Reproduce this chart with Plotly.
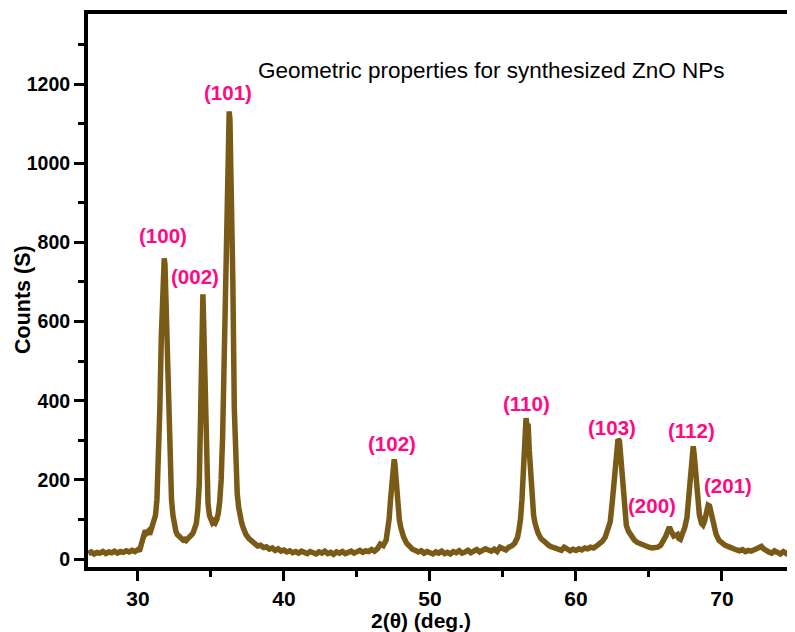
import plotly.graph_objects as go

two_theta = [
    26.6, 26.8, 27.0, 27.2, 27.4, 27.6, 27.8, 28.0, 28.2, 28.4, 28.6, 28.8, 29.0, 29.2, 29.4, 29.6, 29.8, 30.0,
    30.1, 30.2, 30.3, 30.4, 30.5, 30.6, 30.7, 30.8, 30.9, 31.0, 31.1, 31.2, 31.3, 31.4, 31.5, 31.6, 31.7, 31.8,
    31.85, 31.9, 32.0, 32.1, 32.2, 32.3, 32.4, 32.5, 32.6, 32.7, 32.8, 32.9, 33.0, 33.1, 33.2, 33.3, 33.4, 33.5,
    33.6, 33.7, 33.8, 33.9, 34.0, 34.1, 34.2, 34.3, 34.4, 34.45, 34.5, 34.6, 34.7, 34.8, 34.9, 35.0, 35.1, 35.2,
    35.3, 35.4, 35.5, 35.6, 35.7, 35.8, 35.9, 36.0, 36.1, 36.2, 36.25, 36.3, 36.4, 36.5, 36.6, 36.7, 36.8, 36.9,
    37.0, 37.1, 37.2, 37.3, 37.4, 37.6, 37.8, 38.0, 38.2, 38.4, 38.6, 38.8, 39.0, 39.2, 39.4, 39.6, 39.8, 40.0,
    40.2, 40.4, 40.6, 40.8, 41.0, 41.2, 41.4, 41.6, 41.8, 42.0, 42.2, 42.4, 42.6, 42.8, 43.0, 43.2, 43.4, 43.6,
    43.8, 44.0, 44.2, 44.4, 44.6, 44.8, 45.0, 45.2, 45.4, 45.6, 45.8, 46.0, 46.2, 46.4, 46.6, 46.8, 47.0, 47.1,
    47.2, 47.3, 47.4, 47.5, 47.55, 47.6, 47.7, 47.8, 47.9, 48.0, 48.1, 48.2, 48.4, 48.6, 48.8, 49.0,
    49.2, 49.4, 49.6, 49.8, 50.0, 50.2, 50.4, 50.6, 50.8, 51.0, 51.2, 51.4, 51.6, 51.8, 52.0, 52.2, 52.4, 52.6,
    52.8, 53.0, 53.2, 53.4, 53.6, 53.8, 54.0, 54.2, 54.4, 54.6, 54.8, 55.0, 55.2, 55.4,
    55.6, 55.8, 56.0, 56.1, 56.2, 56.3, 56.4, 56.5, 56.58, 56.65, 56.72, 56.8, 56.9, 57.0, 57.1, 57.2, 57.3, 57.4,
    57.6, 57.8, 58.0, 58.2, 58.4, 58.6, 58.8, 59.0, 59.2, 59.4, 59.6, 59.8, 60.0, 60.2, 60.4, 60.6, 60.8, 61.0,
    61.2, 61.4, 61.6, 61.8, 62.0, 62.2, 62.35, 62.5, 62.65, 62.78, 62.88, 62.98, 63.08, 63.2, 63.32, 63.45, 63.6,
    63.8, 64.0, 64.2, 64.4, 64.6, 64.8, 65.0, 65.2, 65.4, 65.6, 65.8, 66.0, 66.15, 66.3, 66.4, 66.5, 66.6, 66.7,
    66.85, 66.95, 67.05, 67.15, 67.3, 67.45, 67.6, 67.75, 67.9, 68.03, 68.1, 68.2, 68.3, 68.45, 68.6, 68.7, 68.8,
    68.95, 69.05, 69.15, 69.3, 69.45, 69.6, 69.8, 70.0, 70.2, 70.4, 70.6, 70.8, 71.0, 71.2, 71.4, 71.6, 71.8,
    72.0, 72.2, 72.4, 72.55, 72.7, 72.85, 73.0, 73.2, 73.4, 73.6, 73.8, 74.0, 74.2, 74.4, 74.6, 74.8, 75.0,
]
counts = [
    14, 18, 13, 17, 15, 19, 14, 18, 16, 20, 15, 19, 17, 21, 18, 22, 19, 24,
    20, 32, 45, 60, 72, 66, 70, 62, 72, 85, 92, 110, 150, 230, 380, 560, 700, 760,
    745, 680, 520, 350, 220, 150, 110, 85, 70, 62, 58, 55, 52, 48, 50, 47, 51, 54,
    57, 62, 68, 76, 90, 125, 190, 380, 630, 669, 600, 380, 210, 140, 110, 97, 92, 96,
    92, 100, 115, 145, 200, 310, 500, 760, 980, 1120, 1131, 1110, 950, 700, 380, 230, 165, 130,
    105, 92, 80, 70, 62, 52, 44, 38, 33, 35, 29, 31, 25, 28, 22, 26, 20, 23,
    18, 21, 16, 19, 15, 20, 17, 14, 19, 16, 13, 18, 15, 20, 14, 17, 12, 18,
    15, 19, 14, 17, 20, 15, 18, 22, 17, 21, 19, 24, 20, 26, 38, 34, 48, 70,
    100, 150, 215, 250, 252, 240, 180, 130, 100, 80, 65, 55, 40, 30, 25, 22,
    18, 21, 15, 19, 16, 13, 18, 15, 20, 14, 17, 13, 19, 16, 21, 15, 18, 22,
    16, 19, 24, 18, 21, 26, 23, 20, 25, 19, 30, 27, 23, 30,
    33, 40, 55, 75, 100, 150, 240, 330, 356, 335, 342, 275, 195, 140, 110, 90, 75, 66,
    52, 44, 40, 33, 30, 27, 24, 22, 30, 24, 21, 25, 22, 26, 23, 28, 26, 30,
    28, 33, 38, 45, 55, 75, 95, 150, 230, 290, 303, 298, 250, 170, 105, 85, 70,
    57, 48, 42, 38, 35, 32, 30, 28, 29, 30, 35, 45, 58, 72, 81, 72, 62, 58,
    60, 62, 52, 50, 65, 80, 105, 170, 250, 285, 262, 205, 155, 112, 90, 86, 95,
    125, 136, 134, 108, 80, 62, 47, 40, 35, 32, 28, 26, 23, 21, 24, 19, 22,
    20, 24, 28, 31, 32, 26, 21, 18, 15, 21, 17, 13, 19, 14, 18, 12, 16,
]

peak_labels = ["(100)", "(002)", "(101)", "(102)", "(110)", "(103)", "(200)", "(112)", "(201)"]
label_x = [31.75, 33.9, 36.18, 47.4, 56.58, 62.47, 65.24, 67.88, 70.38]
label_y = [818, 715, 1178, 292, 394, 333, 136, 326, 187]

x_ticks = [30, 40, 50, 60, 70]
y_ticks = [0, 200, 400, 600, 800, 1000, 1200]

FONT = "Arial, Liberation Sans, Helvetica, sans-serif"
LINE_COLOR = "#7a5a17"
LABEL_COLOR = "#ff0a84"

fig = go.Figure()
fig.add_trace(go.Scatter(
    x=two_theta, y=counts, mode="lines",
    line=dict(color=LINE_COLOR, width=5.5),
    hoverinfo="skip", showlegend=False,
))

for t, lx, ly in zip(peak_labels, label_x, label_y):
    fig.add_annotation(
        x=lx, y=ly, text=t, showarrow=False, xanchor="center", yanchor="middle",
        font=dict(family=FONT, size=20.5, color=LABEL_COLOR, weight="bold"),
    )

fig.add_annotation(
    x=54.21, y=1235, text="Geometric properties for synthesized ZnO NPs",
    showarrow=False, xanchor="center", yanchor="middle",
    font=dict(family=FONT, size=22.5, color="black"),
)

# page body adds an 8px offset; the figure is sized/placed to compensate
PLOT_W = 787 - 80
PLOT_H = 559 - 6
fig.add_annotation(
    xref="paper", yref="paper", x=(15 - 80) / PLOT_W, y=(559 - 292) / PLOT_H, text="Counts (S)", textangle=-90,
    showarrow=False, xanchor="center", yanchor="middle",
    font=dict(family=FONT, size=21.5, color="black", weight="bold"),
)
fig.add_annotation(
    xref="paper", yref="paper", x=(413 - 80) / PLOT_W, y=(559 - 612) / PLOT_H, text="2(θ) (deg.)",
    showarrow=False, xanchor="center", yanchor="middle",
    font=dict(family=FONT, size=21, color="black", weight="bold"),
)

fig.update_layout(
    width=787, height=624,
    margin=dict(l=80, r=0, t=6, b=65),
    paper_bgcolor="white", plot_bgcolor="white",
    xaxis=dict(
        range=[26.58, 75.0], tickvals=x_ticks, ticks="outside", ticklen=10, tickwidth=3,
        tickcolor="black", showline=True, linewidth=4, linecolor="black", mirror=True,
        showgrid=False, zeroline=False,
        tickfont=dict(family=FONT, size=21, color="black", weight="bold"),
        minor=dict(ticks="outside", ticklen=6, tickwidth=3, tickcolor="black", dtick=5, tick0=25, showgrid=False),
    ),
    yaxis=dict(
        range=[-20, 1377], tickvals=y_ticks, ticks="outside", ticklen=10, tickwidth=3,
        tickcolor="black", showline=True, linewidth=4, linecolor="black", mirror=False,
        showgrid=False, zeroline=False,
        tickfont=dict(family=FONT, size=19.5, color="black", weight="bold"),
        minor=dict(ticks="outside", ticklen=6, tickwidth=3, tickcolor="black", dtick=100, tick0=100, showgrid=False),
    ),
)

fig.write_html("out.html")
